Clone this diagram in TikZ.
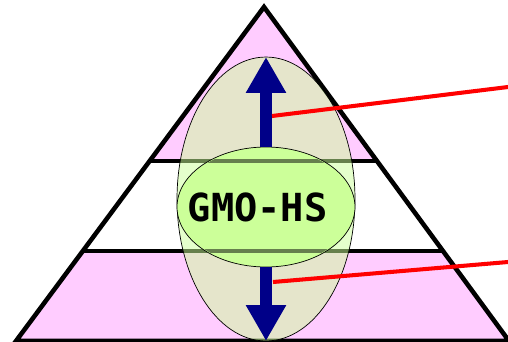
\documentclass[tikz,border=0pt]{standalone}
\usepackage{fontspec}
\usetikzlibrary{shapes.geometric,arrows.meta,calc}
\newfontfamily\gothic{DejaVu Sans Mono}
\definecolor{pyrpink}{HTML}{FFCCFF}
\definecolor{hsgreen}{HTML}{CCFF99}
\definecolor{arrownavy}{HTML}{000088}
\definecolor{bandolive}{HTML}{667F4D}
\begin{document}
\begin{tikzpicture}[x=0.02cm,y=-0.02cm]
    \tikzstyle{edge}=[line width=2.6pt, line join=miter]
    \tikzstyle{band}=[line width=2pt]
    \tikzstyle{outer}=[ellipse, draw, thin, fill=hsgreen, fill opacity=0.5, minimum width=3.56cm, minimum height=5.68cm, inner sep=0pt]
    \tikzstyle{core}=[ellipse, draw, thin, fill=hsgreen, minimum width=3.56cm, minimum height=2.4cm, inner sep=0pt]
    \tikzstyle{fat}=[arrownavy, line width=6.8pt, -{Triangle[width=21.5pt,length=20.4pt]}]
    \tikzstyle{pointer}=[red, line width=2.3pt]
    \useasboundingbox (0,0) rectangle (508,342);
    % pyramid
    \coordinate (apex) at (264,7);
    \coordinate (bl) at (16,341);
    \coordinate (br) at (509,341);
    \coordinate (t1l) at ($(apex)!0.461!(bl)$);
    \coordinate (t1r) at ($(apex)!0.461!(br)$);
    \coordinate (t2l) at ($(apex)!0.731!(bl)$);
    \coordinate (t2r) at ($(apex)!0.731!(br)$);
    \fill[pyrpink] (apex) -- (t1l) -- (t1r) -- cycle;
    \fill[pyrpink] (t2l) -- (t2r) -- (br) -- (bl) -- cycle;
    \draw[band] (t1l) -- (t1r) (t2l) -- (t2r);
    \draw[edge] (bl) -- (apex) -- (br) -- cycle;
    % ellipses
    \node[outer] (zone) at (266,199) {};
    \node[core] (core) at (266,207) {};
    \begin{scope}
      \clip (266,207) ellipse [x radius=88, y radius=59];
      \draw[band, bandolive] (t1l) -- (t1r) (t2l) -- (t2r);
    \end{scope}
    \node[font=\gothic\bfseries\fontsize{22}{22}\selectfont] (hslabel) at ([xshift=-4.8pt]core.center) {GMO-HS};
    % arrows
    \coordinate (tipup) at (266,57);
    \coordinate (tipdown) at (266,341);
    \draw[fat] (core.north) -- (tipup);
    \draw[fat] (core.south) -- (tipdown);
    % pointers
    \coordinate (markup) at (272,116);
    \coordinate (markdown) at (273,282);
    \coordinate (noteup) at (508,87);
    \coordinate (notedown) at (508,262);
    \draw[pointer] (markup) -- (noteup);
    \draw[pointer] (markdown) -- (notedown);
\end{tikzpicture}
\end{document}
